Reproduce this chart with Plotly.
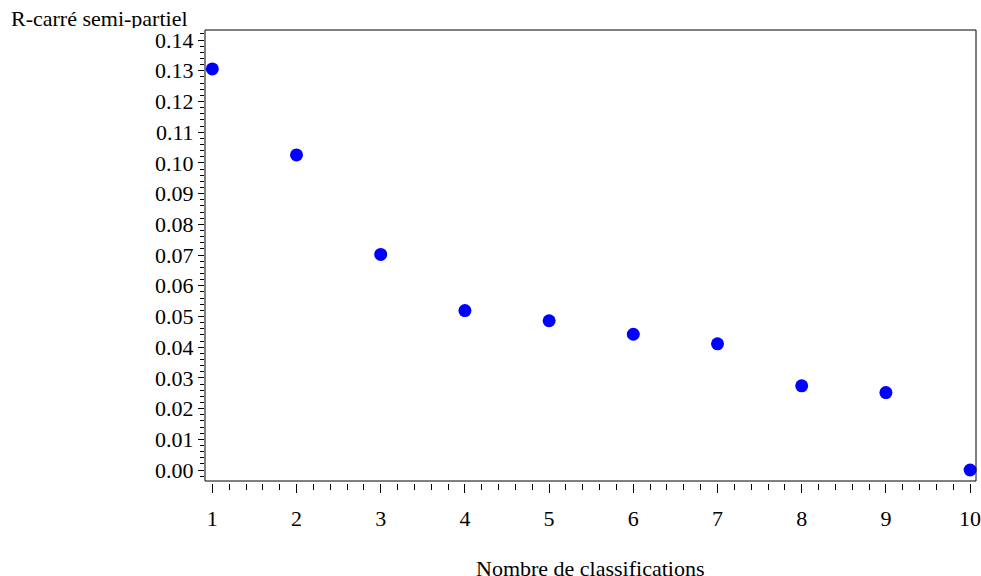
import plotly.graph_objects as go

clusters = [1, 2, 3, 4, 5, 6, 7, 8, 9, 10]
sprsq = [0.1306, 0.1026, 0.0702, 0.0519, 0.0486, 0.0442, 0.0411, 0.0274, 0.0252, 0.0000]

x_title = "Nombre de classifications"
y_title = "R-carré semi-partiel"

FONT = "Liberation Serif"
FS = 22

W, H = 981, 576
L, T, R, B = 205, 30, 5, 93
plot_w = W - L - R
plot_h = H - T - B
dom0 = 2 / plot_h

fig = go.Figure()
fig.add_trace(go.Scatter(
    x=clusters, y=sprsq, mode="markers", cliponaxis=False,
    marker=dict(color="#0000FF", size=13, line=dict(width=0)),
    showlegend=False, hoverinfo="x+y",
))

fig.update_layout(
    width=W, height=H,
    margin=dict(l=L, r=R, t=T, b=B, autoexpand=False),
    paper_bgcolor="white", plot_bgcolor="white",
    font=dict(family=FONT, size=FS, color="black"),
    xaxis=dict(
        range=[0.913, 10.07], tickmode="array", tickvals=clusters,
        ticktext=[str(c) for c in clusters],
        showgrid=False, zeroline=False, showline=False, automargin=False,
        anchor="free", position=0, ticklabeloverflow="allow",
        ticks="outside", ticklen=9, tickwidth=1, tickcolor="black",
        minor=dict(dtick=0.2, tick0=1, ticks="outside", ticklen=6, tickwidth=1, tickcolor="black", showgrid=False),
        ticklabelstandoff=7,
    ),
    yaxis=dict(
        domain=[dom0, 1],
        range=[-0.00358, 0.14327], tick0=0, dtick=0.01, tickformat=".2f",
        showgrid=False, zeroline=False, showline=False, automargin=False,
        ticks="outside", ticklen=6, tickwidth=1, tickcolor="black",
        minor=dict(dtick=0.002, ticks="outside", ticklen=4, tickwidth=1, tickcolor="black", showgrid=False),
    ),
    shapes=[dict(type="rect", xref="x domain", yref="y domain", x0=0, y0=0, x1=1, y1=1,
                 line=dict(color="black", width=1), fillcolor="rgba(0,0,0,0)", layer="above")],
    annotations=[
        dict(text=y_title, xref="paper", yref="paper", x=-L / plot_w, y=1, xanchor="left",
             yanchor="middle", yshift=12, showarrow=False, xshift=10, borderpad=0,
             height=20, valign="middle", font=dict(family=FONT, size=FS)),
        dict(text=x_title, xref="x domain", yref="paper", x=0.5, y=0, xanchor="center",
             yanchor="middle", yshift=-85, showarrow=False, borderpad=0,
             font=dict(family=FONT, size=FS)),
    ],
)

fig.write_html(
    "out.html",
    config={"displayModeBar": False},
    post_script="document.body.style.margin='0';document.body.style.overflow='hidden';",
)
